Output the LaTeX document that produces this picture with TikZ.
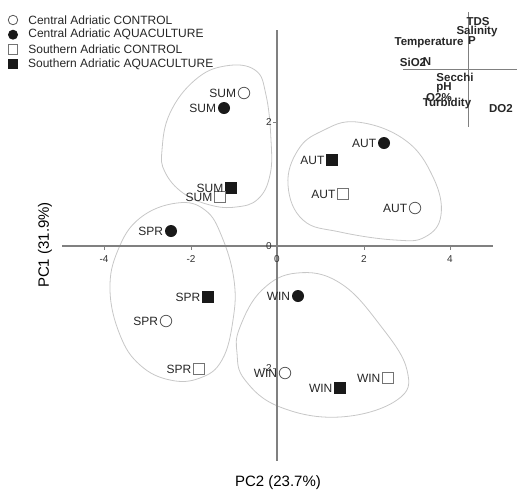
\documentclass[tikz,border=0pt]{standalone}
\usepackage{fontspec}
\setmainfont{Liberation Sans}
\usetikzlibrary{positioning}

\tikzset{
	cc/.style={draw=black!65, fill=white, circle, minimum size=11.5pt, inner sep=0pt, line width=0.8pt},
	ca/.style={fill=black!90, circle, minimum size=12pt, inner sep=0pt},
	sc/.style={draw=black!55, fill=white, rectangle, minimum size=11pt, inner sep=0pt, line width=0.8pt},
	sa/.style={fill=black!90, rectangle, minimum size=11.5pt, inner sep=0pt},
	lab/.style={inner sep=0pt, text=black!85},
	load/.style={inner sep=0pt, font=\fontsize{11.5}{12}\selectfont\bfseries, text=black!85},
	tick/.style={inner sep=0pt, font=\fontsize{10}{11}\selectfont, text=black!80},
	axis/.style={draw=black!50, line width=1.1pt},
	hull/.style={draw=black!22, line width=0.8pt}
}

\begin{document}
\begin{tikzpicture}[x=1pt, y=-1pt, font=\fontsize{12}{14}\selectfont]
	\useasboundingbox (0,0) rectangle (518,491);

	% groups
	\draw[hull] plot[smooth cycle, tension=0.7] coordinates {(225,66) (255,70) (266,95) (271,140) (270,175) (258,199) (236,207) (210,205) (183,193) (165,172) (162,150) (170,113) (195,80)};
	\draw[hull] plot[smooth cycle, tension=0.7] coordinates {(357,122) (405,140) (433,177) (441,215) (425,237) (395,240) (340,232) (303,220) (288,185) (298,150) (322,131)};
	\draw[hull] plot[smooth cycle, tension=0.7] coordinates {(177,203) (205,210) (222,237) (234,280) (233,320) (222,360) (200,378) (170,380) (140,365) (120,335) (110,290) (118,250) (140,218)};
	\draw[hull] plot[smooth cycle, tension=0.7] coordinates {(297,273) (340,283) (380,325) (407,370) (397,400) (340,417) (280,407) (245,380) (237,353) (240,327) (262,290)};

	% axes
	\coordinate (top) at (277,30);
	\coordinate (bot) at (277,461);
	\coordinate (lft) at (62,246);
	\coordinate (rgt) at (493,246);
	\draw[axis] (top) -- (bot);
	\draw[axis] (lft) -- (rgt);
	\draw[axis, line width=0.8pt] (104,246) -- (104,250) (191,246) -- (191,250) (364,246) -- (364,250) (450,246) -- (450,250);
	\draw[axis, line width=0.8pt] (273,122) -- (277,122) (273,368) -- (277,368);
	\node[tick] (xm4) at (104,259) {-4};
	\node[tick] (xm2) at (191,259) {-2};
	\node[tick] (x0) at (277,259) {0};
	\node[tick] (x2) at (364,259) {2};
	\node[tick] (x4) at (450,259) {4};
	\node[tick, anchor=east] (y2) at (272,122) {2};
	\node[tick, anchor=east] (y0) at (272,246) {0};
	\node[tick, anchor=east] (ym2) at (272,368) {-2};
	\node (pc2) at (278,483) {\fontsize{15}{16}\selectfont PC2 (23.7\%)};
	\node[rotate=90] (pc1) at (45,245) {\fontsize{15}{16}\selectfont PC1 (31.9\%)};

	% summer
	\node[cc] (sumC) at (244,93) {};
	\node[ca] (sumA) at (224,108) {};
	\node[sa] (sumQ) at (231,188) {};
	\node[sc] (sumS) at (220,197) {};
	\node[lab] (tsumC) [left=1.5pt of sumC] {SUM};
	\node[lab] (tsumA) [left=1.5pt of sumA] {SUM};
	\node[lab] (tsumQ) [left=1.5pt of sumQ] {SUM};
	\node[lab] (tsumS) [left=1.5pt of sumS] {SUM};

	% autumn
	\node[ca] (autA) at (384,143) {};
	\node[sa] (autQ) at (332,160) {};
	\node[sc] (autS) at (343,194) {};
	\node[cc] (autC) at (415,208) {};
	\node[lab] (tautA) [left=1.5pt of autA] {AUT};
	\node[lab] (tautQ) [left=1.5pt of autQ] {AUT};
	\node[lab] (tautS) [left=1.5pt of autS] {AUT};
	\node[lab] (tautC) [left=1.5pt of autC] {AUT};

	% spring
	\node[ca] (sprA) at (171,231) {};
	\node[sa] (sprQ) at (208,297) {};
	\node[cc] (sprC) at (166,321) {};
	\node[sc] (sprS) at (199,369) {};
	\node[lab] (tsprA) [left=1.5pt of sprA] {SPR};
	\node[lab] (tsprQ) [left=1.5pt of sprQ] {SPR};
	\node[lab] (tsprC) [left=1.5pt of sprC] {SPR};
	\node[lab] (tsprS) [left=1.5pt of sprS] {SPR};

	% winter
	\node[ca] (winA) at (298,296) {};
	\node[cc] (winC) at (285,373) {};
	\node[sa] (winQ) at (340,388) {};
	\node[sc] (winS) at (388,378) {};
	\node[lab] (twinA) [left=1.5pt of winA] {WIN};
	\node[lab] (twinC) [left=1.5pt of winC] {WIN};
	\node[lab] (twinQ) [left=1.5pt of winQ] {WIN};
	\node[lab] (twinS) [left=1.5pt of winS] {WIN};

	% loadings
	\coordinate (ltop) at (468,12);
	\coordinate (lbot) at (468,127);
	\coordinate (llft) at (403,69);
	\coordinate (lrgt) at (517,69);
	\draw[axis, line width=0.9pt] (ltop) -- (lbot);
	\draw[axis, line width=0.9pt] (llft) -- (lrgt);
	\node[load] (tds) at (478,22) {TDS};
	\node[load] (sal) at (477,32) {Salinity};
	\node[load] (temp) at (429,43) {Temperature};
	\node[load] (p) at (472,41) {P};
	\node[load] (sio) at (413,62) {SiO2};
	\node[load] (n) at (427,62) {N};
	\node[load] (secchi) at (455,77) {Secchi};
	\node[load] (ph) at (444,88) {pH};
	\node[load] (otwo) at (439,98) {O2\%};
	\node[load] (turb) at (447,104) {Turbidity};
	\node[load] (dotwo) at (501,109) {DO2};

	% legend
	\node[cc, minimum size=9.5pt] (lg1) at (13,20) {};
	\node[ca, minimum size=10pt] (lg2) at (13,34.7) {};
	\node[sc, minimum size=9.5pt] (lg3) at (13,49.3) {};
	\node[sa, minimum size=9.5pt] (lg4) at (13,64) {};
	\node[lab] (tlg1) [right=10pt of lg1] {Central Adriatic CONTROL};
	\node[lab] (tlg2) [right=10pt of lg2] {Central Adriatic AQUACULTURE};
	\node[lab] (tlg3) [right=10pt of lg3] {Southern Adriatic CONTROL};
	\node[lab] (tlg4) [right=10pt of lg4] {Southern Adriatic AQUACULTURE};
\end{tikzpicture}
\end{document}
